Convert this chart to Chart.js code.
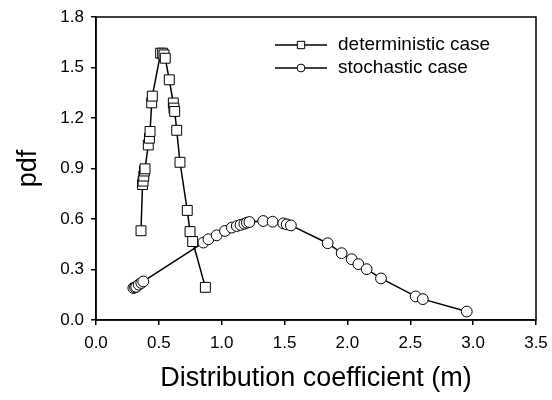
<!DOCTYPE html>
<html>
<head>
<meta charset="utf-8">
<script src="https://cdn.jsdelivr.net/npm/chart.js@4.4.1/dist/chart.umd.min.js"></script>
<style>
  html, body { margin: 0; padding: 0; background: #fff; }
  #wrap { width: 552px; height: 400px; }
</style>
</head>
<body>
<div id="wrap"><canvas id="pdfChart"></canvas></div>
<script>
// distribution coefficient (m) vs pdf
const detX = [0.358, 0.37, 0.375, 0.38, 0.385, 0.39, 0.416, 0.425, 0.43, 0.443, 0.448,
  0.514, 0.53, 0.541, 0.551, 0.583, 0.615, 0.62, 0.626, 0.642, 0.668, 0.726, 0.748, 0.769, 0.87];
const detY = [0.53, 0.805, 0.825, 0.855, 0.885, 0.898, 1.04, 1.08, 1.12, 1.29, 1.33,
  1.585, 1.585, 1.575, 1.555, 1.427, 1.289, 1.259, 1.239, 1.127, 0.937, 0.651, 0.525, 0.466, 0.194];

const stoX = [0.297, 0.31, 0.32, 0.34, 0.36, 0.376, 0.854, 0.894, 0.96, 1.026, 1.08, 1.12, 1.15,
  1.18, 1.2, 1.22, 1.33, 1.405, 1.49, 1.517, 1.55, 1.843, 1.954, 2.034, 2.087, 2.153, 2.267,
  2.543, 2.6, 2.949];
const stoY = [0.19, 0.194, 0.197, 0.21, 0.22, 0.229, 0.46, 0.48, 0.503, 0.529, 0.549, 0.558, 0.565,
  0.572, 0.578, 0.582, 0.588, 0.584, 0.574, 0.568, 0.562, 0.456, 0.397, 0.361, 0.332, 0.302, 0.247,
  0.14, 0.124, 0.05];

const seriesNames = ['deterministic case', 'stochastic case'];
const xTicks = [0, 0.5, 1.0, 1.5, 2.0, 2.5, 3.0, 3.5];
const yTicks = [0, 0.3, 0.6, 0.9, 1.2, 1.5, 1.8];

const FONT = 'Arial, "Liberation Sans", sans-serif';

const toPoints = (xs, ys) => xs.map((x, i) => ({ x: x, y: ys[i] }));

// box around the plot area (top and right sides too)
const frame = {
  id: 'frame',
  afterDatasetsDraw(chart) {
    const { ctx, chartArea: a } = chart;
    ctx.save();
    ctx.strokeStyle = '#000';
    ctx.lineWidth = 1.5;
    ctx.strokeRect(a.left, a.top, a.right - a.left, a.bottom - a.top);
    ctx.restore();
  }
};

// legend: short line with the marker in the middle, then the label
const lineLegend = {
  id: 'lineLegend',
  afterDraw(chart) {
    const { ctx, chartArea: a } = chart;
    const x0 = a.right - 261;
    ctx.save();
    chart.data.datasets.forEach((ds, i) => {
      const y = a.top + 28 + i * 23;
      ctx.strokeStyle = '#000';
      ctx.lineWidth = 1.5;
      ctx.beginPath();
      ctx.moveTo(x0, y);
      ctx.lineTo(x0 + 52, y);
      ctx.stroke();
      ctx.fillStyle = '#fff';
      ctx.lineWidth = 1;
      Chart.helpers.drawPoint(ctx, {
        pointStyle: ds.pointStyle,
        radius: ds.pointStyle === 'rect' ? 5.2 : 3.9,
        rotation: 0,
        borderWidth: 1
      }, x0 + 26, y);
      ctx.fillStyle = '#000';
      ctx.font = '19px ' + FONT;
      ctx.textBaseline = 'middle';
      ctx.fillText(ds.label, x0 + 63, y);
    });
    ctx.restore();
  }
};

const ctx = document.getElementById('pdfChart').getContext('2d');
new Chart(ctx, {
  type: 'scatter',
  data: {
    datasets: [{
      label: seriesNames[0],
      data: toPoints(detX, detY),
      showLine: true,
      borderColor: '#000',
      borderWidth: 1.5,
      pointStyle: 'rect',
      pointRadius: 7,
      pointBackgroundColor: '#fff',
      pointBorderColor: '#000',
      pointBorderWidth: 1
    }, {
      label: seriesNames[1],
      data: toPoints(stoX, stoY),
      showLine: true,
      borderColor: '#000',
      borderWidth: 1.5,
      pointStyle: 'circle',
      pointRadius: 5.4,
      pointBackgroundColor: '#fff',
      pointBorderColor: '#000',
      pointBorderWidth: 1
    }]
  },
  options: {
    responsive: true,
    maintainAspectRatio: false,
    animation: false,
    layout: { padding: { left: 0, right: 16, top: 17, bottom: 0 } },
    plugins: {
      legend: { display: false },
      tooltip: { enabled: false }
    },
    scales: {
      x: {
        type: 'linear',
        min: 0,
        max: 3.5,
        afterFit: (s) => { s.height = 80; s.paddingLeft = 0; s.paddingRight = 0; },
        afterBuildTicks: (s) => { s.ticks = xTicks.map(v => ({ value: v })); },
        ticks: {
          color: '#000',
          font: { family: FONT, size: 17 },
          padding: 8,
          maxRotation: 0,
          callback: (v) => v.toFixed(1)
        },
        grid: { drawOnChartArea: false, drawTicks: true, tickLength: 5, color: '#000', lineWidth: 1.5 },
        border: { display: true, color: '#000', width: 1.5 },
        title: {
          display: true,
          text: 'Distribution coefficient (m)',
          color: '#000',
          font: { family: FONT, size: 27 },
          padding: { top: 0, bottom: 5 }
        }
      },
      y: {
        type: 'linear',
        min: 0,
        max: 1.8,
        afterFit: (s) => { s.width = 96; s.paddingTop = 0; s.paddingBottom = 0; },
        afterBuildTicks: (s) => { s.ticks = yTicks.map(v => ({ value: v })); },
        ticks: {
          color: '#000',
          font: { family: FONT, size: 17 },
          padding: 7,
          callback: (v) => v.toFixed(1)
        },
        grid: { drawOnChartArea: false, drawTicks: true, tickLength: 5, color: '#000', lineWidth: 1.5 },
        border: { display: true, color: '#000', width: 1.5 },
        title: {
          display: true,
          text: 'pdf',
          color: '#000',
          font: { family: FONT, size: 27 },
          padding: { top: 12, bottom: 0 }
        }
      }
    }
  },
  plugins: [frame, lineLegend]
});
</script>
</body>
</html>
